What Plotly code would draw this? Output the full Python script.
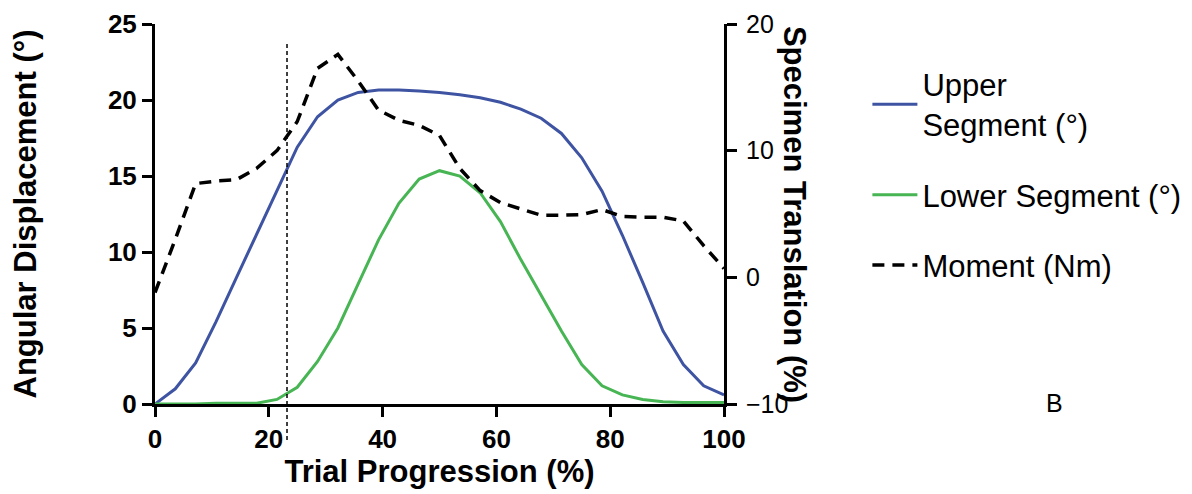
import plotly.graph_objects as go

# ---- data ----
progress = [0, 3.57, 7.14, 10.71, 14.29, 17.86, 21.43, 25, 28.57, 32.14, 35.71,
            39.29, 42.86, 46.43, 50, 53.57, 57.14, 60.71, 64.29, 67.86, 71.43,
            75, 78.57, 82.14, 85.71, 89.29, 92.86, 96.43, 100]

upper_segment = [0, 1.0, 2.7, 5.4, 8.3, 11.2, 14.1, 16.9, 18.9, 20.0, 20.5,
                 20.65, 20.65, 20.6, 20.5, 20.35, 20.15, 19.85, 19.4, 18.8, 17.8,
                 16.2, 14.0, 11.1, 8.0, 4.8, 2.6, 1.2, 0.6]

lower_segment = [0, 0, 0, 0.05, 0.05, 0.05, 0.3, 1.1, 2.8, 5.0, 7.9,
                 10.8, 13.2, 14.8, 15.35, 15.0, 13.9, 12.0, 9.5, 7.1, 4.8,
                 2.6, 1.2, 0.6, 0.3, 0.15, 0.1, 0.1, 0.1]

moment = [-1.2, 3.0, 7.4, 7.6, 7.7, 8.6, 10.0, 12.3, 16.5, 17.6, 15.5,
          13.2, 12.4, 12.0, 11.2, 8.6, 6.85, 5.9, 5.4, 4.9, 4.9,
          4.95, 5.35, 4.8, 4.75, 4.75, 4.45, 2.5, 0.7]

marker_progress = 23.2  # vertical dashed reference line

x_ticks = [0, 20, 40, 60, 80, 100]
left_ticks = [0, 5, 10, 15, 20, 25]
right_ticks = [-10, 0, 10, 20]

names = ["Upper<br>Segment (°)", "Lower Segment (°)", "Moment (Nm)"]

BLUE = "#3e54a3"
GREEN = "#47b553"
FONT = "Liberation Sans, Arial, sans-serif"

fig = go.Figure()
fig.add_trace(go.Scatter(x=progress, y=upper_segment, mode="lines", name=names[0],
                         line=dict(color=BLUE, width=3), legendgroup="a"))
fig.add_trace(go.Scatter(x=progress, y=lower_segment, mode="lines", name=names[1],
                         line=dict(color=GREEN, width=3), legendgroup="b"))
fig.add_trace(go.Scatter(x=progress, y=moment, mode="lines", name=names[2], yaxis="y2",
                         line=dict(color="black", width=3.5, dash="12px,8px"),
                         legendgroup="c"))

axis_common = dict(showline=True, linecolor="black", linewidth=3, ticks="outside",
                   ticklen=10, tickwidth=3, tickcolor="black", showgrid=False,
                   zeroline=False, automargin=False)

fig.update_layout(
    template="none",
    width=1192, height=494,
    margin=dict(l=147, r=476, t=16, b=98),
    paper_bgcolor="white", plot_bgcolor="white",
    font=dict(family=FONT, color="black"),
    xaxis=dict(range=[0, 100], tickvals=x_ticks,
               tickfont=dict(size=26, weight="bold"),
               title=dict(text="<b>Trial Progression (%)</b>", font=dict(size=31), standoff=0),
               **axis_common),
    yaxis=dict(range=[0, 25], tickvals=left_ticks,
               tickfont=dict(size=26, weight="bold"),
               title=dict(text="<b>Angular Displacement (°)</b>", font=dict(size=31), standoff=64),
               **axis_common),
    yaxis2=dict(range=[-10, 20], tickvals=right_ticks, overlaying="y", side="right",
                tickfont=dict(size=25), ticklabelstandoff=4,
                **axis_common),
    legend=dict(x=1.252, y=0.912, xanchor="left", yanchor="top",
                font=dict(size=31, family=FONT), tracegroupgap=27,
                itemwidth=45, bgcolor="rgba(0,0,0,0)"),
    showlegend=True,
)

fig.add_shape(type="line", xref="x", yref="paper", x0=marker_progress, x1=marker_progress,
              y0=-0.095, y1=0.953, line=dict(color="black", width=1.5, dash="4px,3px"))

fig.add_annotation(text="<b>Specimen Translation (%)</b>", xref="paper", yref="paper",
                   x=1.125, y=0.5, textangle=90, showarrow=False,
                   font=dict(size=31, family=FONT), xanchor="center", yanchor="middle")
fig.add_annotation(text="B", xref="paper", yref="paper", x=1.58, y=0.003,
                   showarrow=False, font=dict(size=25, family=FONT),
                   xanchor="center", yanchor="middle")

fig.write_html("out.html")
